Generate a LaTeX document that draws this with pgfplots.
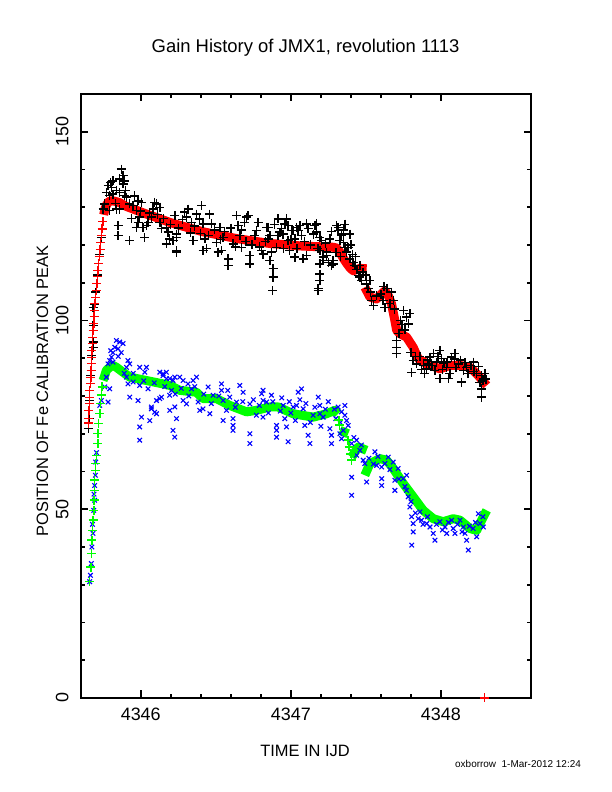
\documentclass[border=0pt]{standalone}
\usepackage{fontspec}
\setmainfont{Liberation Sans}
\usepackage{pgfplots}
\pgfplotsset{compat=1.18}
\begin{document}
\begin{tikzpicture}
\path[use as bounding box] (0bp,0bp) rectangle (612bp,792bp);
\begin{axis}[
  at={(80.7bp,94bp)}, anchor=south west,
  width=450.3bp, height=604bp, scale only axis,
  xmin=4345.6, xmax=4348.6, ymin=0, ymax=160,
  xtick={4346,4347,4348}, minor x tick num=4,
  ytick={0,50,100,150}, minor y tick num=4,
  tick align=inside, major tick length=7.5bp, minor tick length=4bp,
  tick style={line width=1.6bp, black},
  axis line style={line width=2bp},
  /pgf/number format/assume math mode=true,
  /pgf/number format/1000 sep={},
  xticklabel style={font=\fontsize{18}{18}\selectfont, anchor=north, inner sep=0pt},
  xticklabel shift=9.5bp,
  yticklabel style={font=\fontsize{18}{18}\selectfont, rotate=90, anchor=south, inner sep=0pt},
  yticklabel shift=12bp,
  clip=false,
]
% black raw data (upper)
\addplot[only marks, mark=+, mark size=4.5bp, line width=1.4bp, black] table {
4345.682 103.5
4345.693 104.4
4345.682 98.7
4345.682 94.3
4345.682 92.9
4345.675 90.7
4345.671 86.8
4345.667 85.4
4345.660 81.5
4345.660 78.8
4345.660 74.0
4345.650 71.4
4345.700 107.5
4345.711 112.0
4345.725 117.5
4345.738 122.0
4345.871 140.1
4345.882 138.4
4345.893 137.0
4345.815 137.0
4345.782 135.7
4345.805 135.2
4345.771 133.9
4345.838 134.4
4345.860 133.9
4345.793 133.1
4345.815 133.5
4345.893 133.1
4345.905 132.7
4345.882 136.2
4345.760 130.9
4345.749 129.5
4345.793 129.1
4345.838 129.5
4345.849 125.1
4345.849 122.5
4345.927 121.2
4345.860 129.5
4345.927 130.9
4345.949 130.4
4345.982 131.7
4346.005 131.3
4345.971 129.1
4345.993 127.4
4345.982 126.0
4345.971 124.7
4346.027 122.0
4346.015 124.7
4346.038 125.1
4346.049 126.0
4346.071 127.4
4346.093 131.3
4346.105 130.9
4346.082 129.5
4346.127 130.0
4346.138 124.3
4346.127 126.0
4346.171 124.7
4346.182 123.4
4346.193 121.6
4346.171 120.3
4346.215 121.2
4346.238 122.0
4346.238 118.5
4346.227 127.8
4346.238 118.1
4346.238 122.9
4346.293 128.7
4346.315 129.5
4346.305 127.4
4346.338 126.0
4346.349 121.2
4346.371 128.2
4346.405 130.4
4346.393 126.9
4346.415 125.6
4346.427 121.6
4346.415 118.5
4346.438 119.0
4346.460 128.2
4346.471 125.6
4346.505 120.7
4346.527 124.7
4346.515 118.1
4346.538 118.5
4346.582 116.3
4346.582 114.6
4346.549 122.0
4346.615 120.3
4346.638 127.8
4346.649 125.1
4346.660 122.5
4346.671 119.4
4346.705 127.4
4346.715 127.8
4346.693 126.0
4346.727 117.2
4346.727 115.0
4346.760 122.5
4346.771 123.8
4346.782 126.0
4346.805 118.5
4346.815 117.6
4346.849 124.7
4346.849 121.6
4346.860 115.9
4346.871 118.1
4346.882 113.7
4346.882 111.5
4346.878 107.9
4346.905 119.4
4346.915 122.5
4346.927 123.4
4346.938 124.3
4346.960 125.6
4346.971 126.9
4346.982 121.2
4346.993 118.5
4347.005 123.8
4347.027 121.6
4347.027 116.8
4347.038 124.7
4347.060 125.1
4347.071 122.5
4347.082 116.3
4347.105 117.2
4347.105 125.6
4347.115 124.3
4347.160 125.1
4347.171 123.4
4347.205 121.2
4347.193 118.5
4347.215 115.9
4347.193 112.3
4347.182 108.4
4347.238 117.2
4347.260 121.6
4347.282 115.0
4347.305 125.1
4347.315 123.8
4347.327 121.2
4347.349 122.9
4347.360 119.4
4347.371 118.1
4346.838 124.7
4346.860 122.5
4346.915 126.9
4346.982 125.1
4346.949 122.9
4347.015 123.8
4347.049 123.8
4347.171 125.6
4347.149 122.9
4347.193 122.0
4347.193 115.0
4347.182 107.9
4347.193 110.6
4347.215 116.8
4347.238 118.1
4347.249 115.4
4347.271 114.6
4347.282 115.9
4347.315 124.7
4347.338 122.5
4347.349 120.7
4347.382 119.4
4347.393 122.9
4347.393 116.3
4347.415 115.4
4347.427 114.6
4347.460 111.5
4347.449 111.9
4347.471 110.6
4347.505 109.7
4347.527 110.6
4347.515 108.4
4347.538 105.3
4347.549 104.0
4347.615 105.3
4347.627 103.5
4347.671 107.5
4347.682 105.3
4347.749 102.6
4347.771 100.9
4347.782 99.1
4347.793 101.8
4347.705 94.7
4347.705 92.9
4347.705 91.2
4347.815 89.4
4347.805 86.3
4347.838 88.5
4347.882 88.1
4347.905 87.2
4347.927 90.3
4347.949 91.2
4347.993 92.1
4348.005 89.9
4347.960 86.8
4347.993 84.6
4348.049 84.6
4348.038 87.6
4348.071 90.3
4348.093 91.2
4348.115 88.5
4348.149 86.8
4348.138 83.7
4348.171 87.6
4348.215 89.0
4348.238 85.9
4348.271 85.4
4348.293 85.9
4348.271 81.9
4348.271 79.7
4347.440 113.5
4347.480 112.8
4347.430 117.0
4347.400 120.0
4347.350 124.0
4347.600 107.0
4347.640 108.5
4347.660 104.5
4347.740 99.0
4347.760 97.5
4347.720 96.5
4347.860 90.5
4347.870 87.0
4347.890 86.0
4347.910 89.5
4347.940 88.0
4347.970 89.0
4348.010 87.0
4348.020 88.6
4348.060 86.0
4348.100 87.5
4348.130 89.5
4348.180 86.0
4348.200 88.0
4348.250 87.8
4348.280 84.0
4348.300 84.5
4345.800 136.5
4345.830 131.0
4345.860 137.5
4345.900 134.5
4345.940 127.0
4345.960 133.0
4346.000 129.0
4346.060 128.5
4346.110 128.0
4346.150 127.0
4346.200 125.5
4346.250 124.5
4346.280 126.8
4346.330 123.2
4346.360 125.0
4346.400 123.0
4346.450 122.5
4346.490 124.0
4346.530 121.5
4346.560 123.5
4346.600 124.5
4346.630 119.5
4346.670 124.0
4346.700 121.0
4346.740 120.0
4346.790 119.5
4346.830 121.0
4346.890 125.5
4346.950 119.0
4347.000 121.5
4347.040 119.0
4347.090 121.0
4347.130 120.0
4347.180 119.0
4347.230 120.5
4347.270 123.5
4347.300 118.0
4347.330 117.0
4347.360 125.5
4347.410 117.5
4347.460 114.5
4347.500 112.0
4347.530 107.5
4347.570 106.5
4347.620 109.0
4347.690 103.0
4347.730 100.0
4347.800 91.5
4347.830 90.5
4347.920 88.5
4347.980 90.5
4348.040 89.0
4348.090 89.8
4348.160 88.8
4348.220 86.5
4348.260 83.5
};
% blue raw data (lower)
\addplot[only marks, mark=x, mark size=3.2bp, line width=1.1bp, blue] table {
4345.660 30.8
4345.665 32.5
4345.671 35.6
4345.675 40.0
4345.682 43.6
4345.678 46.0
4345.687 49.7
4345.693 52.4
4345.689 54.0
4345.693 56.3
4345.698 59.0
4345.700 62.5
4345.705 65.0
4345.727 77.5
4345.738 78.8
4345.782 78.4
4345.838 94.7
4345.860 94.3
4345.882 93.9
4345.827 92.9
4345.815 91.5
4345.805 90.3
4345.793 89.4
4345.815 89.0
4345.849 92.5
4345.782 88.5
4345.915 89.4
4345.927 88.5
4345.905 87.6
4345.771 85.0
4345.760 82.4
4345.793 81.9
4345.905 85.0
4345.915 83.2
4345.949 83.7
4345.927 79.7
4345.993 82.8
4345.982 78.8
4346.005 74.4
4345.993 71.8
4345.993 68.3
4346.038 87.6
4346.027 86.3
4346.049 81.9
4346.071 77.1
4346.060 73.5
4346.105 78.8
4346.093 75.7
4346.127 86.3
4346.149 85.4
4346.171 84.6
4346.215 84.1
4346.205 81.5
4346.138 79.7
4346.227 77.1
4346.238 74.0
4346.215 70.9
4346.227 69.1
4346.193 76.2
4345.993 87.6
4346.105 75.3
4346.071 76.6
4346.127 79.3
4346.149 85.9
4346.171 86.3
4346.193 84.6
4346.227 85.0
4346.260 85.0
4346.282 84.1
4346.315 83.2
4346.349 84.1
4346.371 85.0
4346.338 81.9
4346.193 80.2
4346.282 78.8
4346.305 77.9
4346.382 78.4
4346.393 76.2
4346.415 76.6
4346.460 75.3
4346.449 82.4
4346.482 80.2
4346.538 83.2
4346.538 81.5
4346.549 78.8
4346.549 73.5
4346.571 76.2
4346.593 79.7
4346.615 74.0
4346.615 72.2
4346.615 70.9
4346.638 78.4
4346.660 82.8
4346.682 81.0
4346.727 77.9
4346.727 70.0
4346.727 67.4
4346.771 74.9
4346.805 80.6
4346.815 78.8
4346.838 78.4
4346.815 81.5
4346.871 80.2
4346.815 74.4
4346.905 72.2
4346.905 70.9
4346.905 69.1
4346.949 77.5
4346.960 74.0
4346.971 71.8
4346.982 67.9
4347.015 77.1
4347.049 81.0
4347.071 81.9
4347.038 77.5
4347.082 76.6
4347.093 72.2
4347.115 69.6
4347.127 67.4
4347.149 74.9
4347.182 79.7
4347.193 77.5
4347.193 75.3
4347.215 74.4
4347.260 71.3
4347.271 69.6
4347.271 67.4
4347.315 77.1
4347.338 75.8
4347.360 74.9
4347.371 73.5
4347.382 72.2
4347.349 70.9
4347.327 70.0
4347.338 68.7
4347.405 67.4
4347.438 68.3
4347.405 58.5
4347.405 53.7
4347.460 65.6
4347.438 64.3
4347.482 63.0
4347.493 62.1
4347.505 57.2
4347.560 65.2
4347.571 61.6
4347.605 61.2
4347.605 58.1
4347.605 56.3
4347.627 62.1
4347.649 63.8
4347.682 62.5
4347.693 57.7
4347.693 55.0
4347.715 60.8
4347.749 58.1
4347.771 59.0
4347.771 55.0
4347.782 53.3
4347.793 50.6
4347.805 48.0
4347.815 46.2
4347.815 44.0
4347.805 40.5
4347.849 47.5
4347.871 47.1
4347.860 49.3
4347.905 46.2
4347.927 45.3
4347.949 43.6
4347.960 41.8
4347.993 46.7
4348.027 45.3
4348.038 43.6
4348.071 47.1
4348.082 44.9
4348.093 43.6
4348.127 47.1
4348.149 45.3
4348.160 43.6
4348.171 41.8
4348.182 39.2
4348.215 44.9
4348.238 42.7
4348.260 46.2
4348.282 45.3
4348.249 48.8
4346.930 76.0
4347.000 75.5
4347.130 73.0
4347.230 76.5
4347.300 74.0
4345.850 90.5
4345.870 91.5
4345.800 92.0
4345.890 86.0
4345.950 86.0
4346.020 84.0
4346.090 83.5
4346.160 82.5
4346.230 80.5
4346.270 82.0
4346.320 80.0
4346.360 82.5
4346.420 80.5
4346.470 78.0
4346.520 80.0
4346.580 81.5
4346.630 77.0
4346.680 78.5
4346.750 79.0
4346.790 77.5
4346.850 75.5
4346.880 78.5
4346.940 79.5
4346.990 78.5
4347.030 73.5
4347.060 79.0
4347.100 78.0
4347.160 77.0
4347.200 72.0
4347.250 78.5
4347.290 76.5
4347.330 73.0
4347.360 77.5
4347.420 69.0
4347.470 67.0
4347.520 63.5
4347.550 62.0
4347.580 64.0
4347.660 60.5
4347.720 58.0
4347.760 56.0
4347.800 52.0
4347.830 49.0
4347.880 46.0
4347.910 48.0
4347.970 46.0
4348.010 44.5
4348.050 46.5
4348.110 46.0
4348.140 44.0
4348.190 45.5
4348.230 46.5
4348.280 48.0
};
% red smoothed curve: rise
\addplot[only marks, mark=+, mark size=4.5bp, line width=1.5bp, red] table {
4345.653 72.8
4345.653 74.1
4345.655 76.2
4345.658 78.0
4345.660 79.6
4345.660 81.5
4345.665 83.3
4345.667 84.9
4345.669 86.8
4345.671 88.6
4345.673 90.2
4345.675 92.1
4345.678 93.9
4345.680 95.5
4345.682 97.4
4345.687 99.2
4345.689 101.1
4345.693 102.6
4345.695 104.5
4345.700 106.1
4345.705 107.9
4345.707 109.8
4345.711 111.6
4345.715 113.2
4345.720 115.1
4345.725 116.9
4345.729 118.8
4345.733 120.6
4345.738 122.5
4345.742 124.3
4345.747 126.2
4348.290 0
};
\addplot[red, line width=9bp, line join=round, no marks] table {
4345.753 128.0
4345.762 129.6
4345.773 130.7
4345.787 131.5
4345.805 131.7
4345.827 131.6
4345.860 131.2
4345.905 130.2
4345.971 129.2
4346.038 128.2
4346.082 127.6
4346.193 126.0
4346.260 125.2
4346.415 123.5
4346.638 121.7
4346.860 120.4
4347.082 119.7
4347.282 119.4
4347.305 119.2
4347.327 118.1
4347.349 116.5
4347.371 115.2
4347.393 114.0
4347.415 113.2
4347.440 113.5
4347.460 113.8
4347.505 113.7
};
\addplot[red, line width=9bp, line join=round, no marks] table {
4347.493 108.8
4347.527 106.2
4347.571 105.7
4347.627 107.9
4347.650 106.5
4347.671 104.4
4347.693 100.0
4347.705 97.4
4347.727 96.5
4347.771 95.6
4347.815 92.9
4347.849 89.9
4347.905 88.5
4347.993 87.2
4348.060 88.1
4348.127 88.1
4348.193 87.6
4348.249 85.4
4348.305 82.8
};
% green smoothed curve
\addplot[only marks, mark=+, mark size=4.5bp, line width=1.5bp, green] table {
4345.660 30.8
4345.667 34.7
4345.671 38.3
4345.675 41.8
4345.678 44.4
4345.682 47.1
4345.687 49.7
4345.689 52.4
4345.693 55.0
4345.693 57.7
4345.698 60.3
4345.700 62.1
4345.705 64.3
4345.715 67.4
4345.715 70.0
4345.720 72.7
4345.727 75.3
4345.731 78.0
4345.738 80.2
4345.742 82.4
4347.320 73.6
4347.324 72.3
4347.382 68.3
4347.389 66.5
4347.398 64.7
4347.405 63.0
};
\addplot[green, line width=9bp, line join=round, no marks] table {
4345.749 84.1
4345.760 85.4
4345.771 86.8
4345.793 87.6
4345.815 88.1
4345.838 87.6
4345.882 86.3
4345.927 85.0
4346.038 84.1
4346.149 83.2
4346.193 82.8
4346.260 81.5
4346.371 81.0
4346.415 79.3
4346.505 79.3
4346.593 77.5
4346.705 75.8
4346.771 76.2
4346.860 77.1
4346.915 77.1
4347.015 75.3
4347.149 74.4
4347.238 75.3
4347.293 76.2
4347.315 75.3
};
\addplot[green, line width=9bp, line join=round, no marks] table {
4347.327 70.9
4347.382 70.0
};
\addplot[green, line width=9bp, line join=round, no marks] table {
4347.405 63.8
4347.449 66.5
4347.505 65.6
};
\addplot[green, line width=9bp, line join=round, no marks] table {
4347.493 59.0
4347.527 62.1
4347.593 63.4
4347.638 63.0
4347.682 60.8
4347.749 56.8
4347.815 53.3
4347.882 49.7
4347.949 47.5
4348.015 46.7
4348.082 47.5
4348.127 47.1
4348.193 44.9
4348.238 44.4
4348.271 47.1
4348.293 48.8
4348.305 49.7
};
\end{axis}
\node[anchor=base, font=\fontsize{18.5}{18.5}\selectfont] at (305.5bp,739bp) {Gain History of JMX1, revolution 1113};
\node[anchor=base, font=\fontsize{16.5}{16.5}\selectfont] at (305bp,35.3bp) {TIME IN IJD};
\node[rotate=90, font=\fontsize{16.5}{16.5}\selectfont] at (42.5bp,401bp) {POSITION OF Fe CALIBRATION PEAK};
\node[anchor=base west, font=\fontsize{10}{10}\selectfont, inner sep=0pt] at (455bp,25bp) {oxborrow\ \ 1-Mar-2012 12:24};
\end{tikzpicture}
\end{document}
